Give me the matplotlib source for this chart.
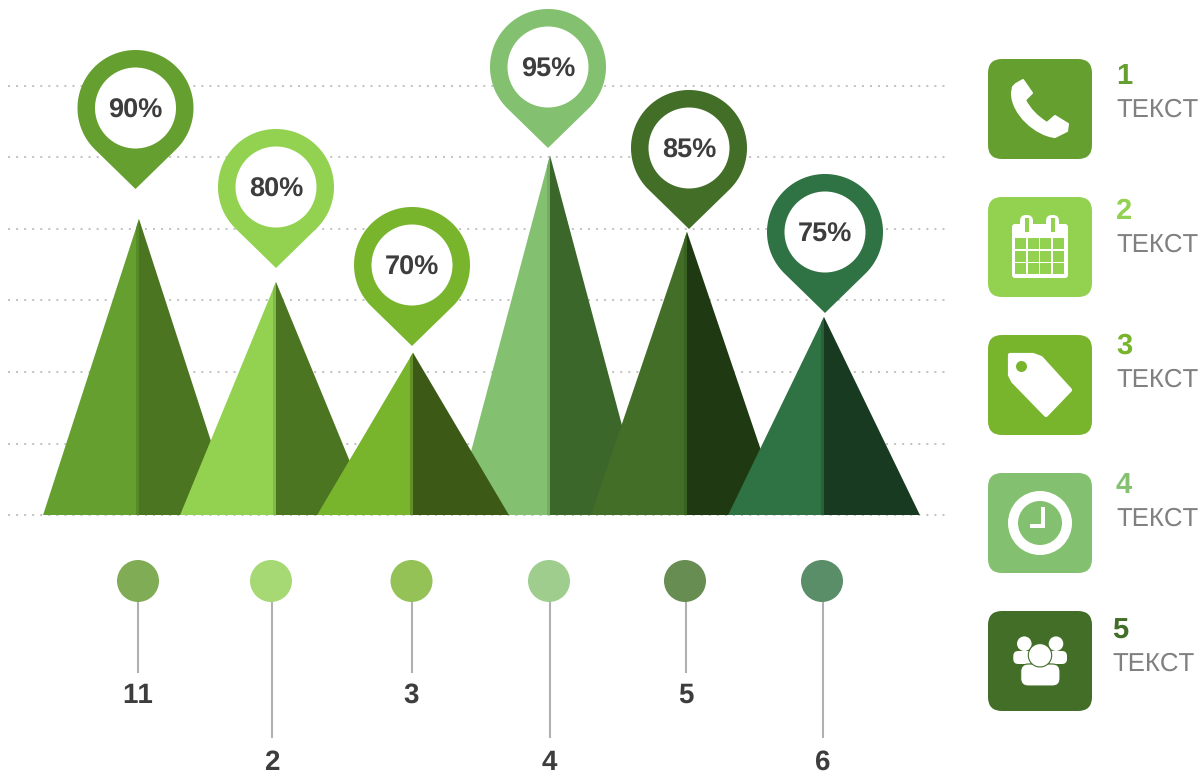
import matplotlib
matplotlib.use('Agg')
import matplotlib.pyplot as plt
import numpy as np
from matplotlib.patches import Circle, FancyBboxPatch, Polygon, PathPatch, Rectangle
from matplotlib.path import Path

plt.rcParams['font.family'] = ['Liberation Sans', 'DejaVu Sans']
plt.rcParams['text.kerning_factor'] = 6
plt.rcParams['text.hinting'] = 'none'

# chart values
percents = [90, 80, 70, 95, 85, 75]
peak_heights = [414, 326, 227, 503, 396, 277]   # in grid units, 100 per dotted line
grid_levels = [0, 100, 200, 300, 400, 500, 600]
bottom_labels = ['11', '2', '3', '4', '5', '6']
legend_numbers = ['1', '2', '3', '4', '5']
legend_text = 'ТЕКСТ'

left_colors = ['#659f2f', '#93d250', '#79b42d', '#83c170', '#426e27', '#2f7244']
right_colors = ['#4b7520', '#4b7520', '#3c5916', '#3b672b', '#1f3a13', '#173a20']
stripe_colors = ['#568c28', '#7fbb48', '#628f27', '#74ac64', '#396222', '#296239']
dot_colors = ['#81ac56', '#a6d974', '#94c257', '#9ecd8d', '#678d52', '#5a8e69']
icon_colors = ['#659f2f', '#93d250', '#79b42d', '#83c170', '#426e27']

INK = '#3d3d3d'
W, H = 1204, 775

fig = plt.figure(figsize=(W / 100, H / 100), dpi=100, facecolor='white')

# triangles live on a real axes: x = category index, y = grid units
ax = fig.add_axes([2 / W, (H - 515) / H, 959 / W, 429 / H])
ax.set_xlim(-1, 6)
ax.set_ylim(0, 600)
ax.axis('off')
ax.hlines(grid_levels, -0.956, 5.905, colors='#c4c4c4', linewidth=1.45,
          linestyles=[(0, (1, 3))], zorder=1, clip_on=False)

half_width = 0.70
for order, i in enumerate([0, 1, 3, 2, 4, 5]):
    z = 2 + order
    h = peak_heights[i]
    ax.add_patch(Polygon([(i - half_width, 0), (i, h), (i, 0)], fc=left_colors[i], ec='none', zorder=z))
    ax.add_patch(Polygon([(i, 0), (i, h), (i + half_width, 0)], fc=right_colors[i], ec='none', zorder=z))
    tri = Polygon([(i - half_width, 0), (i, h), (i + half_width, 0)], transform=ax.transData)
    stripe = Rectangle((i - 0.02, 0), 0.02, h, fc=stripe_colors[i], ec='none', zorder=z)
    ax.add_patch(stripe)
    stripe.set_clip_path(tri)

# everything else is placed in pixels on an overlay
px = fig.add_axes([0, 0, 1, 1])
px.set_xlim(0, W)
px.set_ylim(H, 0)
px.axis('off')
px.patch.set_alpha(0)


def pin(cx, cy, color, label):
    r, d = 58, 81
    b = np.arccos(r / d)
    ang = np.linspace(-np.pi / 2 + b, 3 * np.pi / 2 - b, 160)
    pts = [(cx + r * np.cos(t), cy - r * np.sin(t)) for t in ang]
    pts.append((cx, cy + d))
    px.add_patch(Polygon(pts, fc=color, ec='none', zorder=3))
    px.add_patch(Circle((cx, cy), 40.5, fc='white', ec='none', zorder=4))
    px.text(cx, cy + 10, label, ha='center', va='baseline', fontsize=19.5, fontweight='bold', color=INK, zorder=5)


pin_x = [135.5, 276, 412, 548, 689, 825]
pin_y = [108, 187, 265, 67, 148, 232]
for i, p in enumerate(percents):
    pin(pin_x[i], pin_y[i], left_colors[i], f'{p}%')

# dots, stems and labels under the chart
dot_x = [138, 271, 411.5, 549, 685, 822]
stem_x = [138, 271.5, 411.5, 549.5, 685.5, 823]
stem_end = [673, 738, 673, 738, 673, 738]
label_y = [703, 770, 703, 770, 703, 770]
for i in range(6):
    px.plot([stem_x[i], stem_x[i]], [600, stem_end[i]], color='#b0b0b0', lw=1.5, solid_capstyle='butt', zorder=2)
    px.add_patch(Circle((dot_x[i], 581), 21, fc=dot_colors[i], ec='none', zorder=3))
    px.text(stem_x[i], label_y[i], bottom_labels[i], ha='center', va='baseline', fontsize=20,
            fontweight='bold', color=INK)


def phone(x, y):
    verts = [(24, 34), (25, 28), (28, 25), (35, 21), (44, 34), (37, 41),
             (44, 55), (59, 64),
             (67, 57), (80, 65), (79, 72), (67, 78),
             (48, 76), (24, 55), (24, 34), (24, 34)]
    codes = [Path.MOVETO, Path.LINETO, Path.LINETO, Path.LINETO, Path.LINETO, Path.LINETO,
             Path.CURVE3, Path.CURVE3,
             Path.LINETO, Path.LINETO, Path.LINETO, Path.LINETO,
             Path.CURVE4, Path.CURVE4, Path.CURVE4, Path.CLOSEPOLY]
    px.add_patch(PathPatch(Path([(x + a, y + b) for a, b in verts], codes), fc='white', ec='white',
                           lw=1.5, joinstyle='round', zorder=4))


def calendar(x, y, bg):
    px.add_patch(FancyBboxPatch((x + 24, y + 27), 56, 54, boxstyle='round,pad=0,rounding_size=3',
                                fc='white', ec='none', zorder=4))
    for rx in (32, 58):
        px.add_patch(FancyBboxPatch((x + rx, y + 18), 13, 17, boxstyle='round,pad=0,rounding_size=6',
                                    fc='white', ec='none', zorder=5))
        px.add_patch(Rectangle((x + rx + 4.5, y + 21), 4, 14, fc=bg, ec='none', zorder=6))
    for c in range(4):
        for r in range(3):
            px.add_patch(Rectangle((x + 27 + c * 12.6, y + 41 + r * 12.6), 11, 11, fc=bg, ec='none', zorder=5))


def tag(x, y, bg):
    pts = [(22, 20), (45, 20), (53, 23), (82, 55), (58, 80), (25, 46), (22, 40)]
    px.add_patch(Polygon([(x + a, y + b) for a, b in pts], fc='white', ec='white', lw=3, joinstyle='round', zorder=4))
    px.add_patch(Circle((x + 33.5, y + 31.5), 5.5, fc=bg, ec='none', zorder=5))


def clock(x, y, bg):
    px.add_patch(Circle((x + 52, y + 50), 32, fc='white', ec='none', zorder=4))
    px.add_patch(Circle((x + 52, y + 50), 22, fc=bg, ec='none', zorder=5))
    px.add_patch(Rectangle((x + 52.7, y + 34), 4, 21, fc='white', ec='none', zorder=6))
    px.add_patch(Rectangle((x + 42, y + 51), 14.7, 4, fc='white', ec='none', zorder=6))


def people(x, y, bg):
    for cx, bx in ((36.3, 25.3), (68, 59)):
        px.add_patch(Circle((x + cx, y + 32.7), 7.3, fc='white', ec='none', zorder=4))
        px.add_patch(FancyBboxPatch((x + bx, y + 40), 20, 13,
                                    boxstyle='round,pad=0,rounding_size=5', fc='white', ec='none', zorder=4))
    px.add_patch(FancyBboxPatch((x + 32.7, y + 53), 39.3, 22, boxstyle='round,pad=0,rounding_size=7.5',
                                fc='white', ec=bg, lw=0.8, zorder=5))
    px.add_patch(Circle((x + 52, y + 44.3), 11.7, fc='white', ec=bg, lw=0.8, zorder=6))


icon_y = [59, 197, 335, 473, 611]
num_x = [1116, 1116, 1116, 1116, 1112]
num_y = [84, 219, 354, 493, 639]
text_y = [117, 252, 387, 526, 671]
for i in range(5):
    y = icon_y[i]
    px.add_patch(FancyBboxPatch((988, y), 104, 100, boxstyle='round,pad=0,rounding_size=14',
                                fc=icon_colors[i], ec='none', zorder=3))
    px.text(num_x[i], num_y[i], legend_numbers[i], ha='left', va='baseline', fontsize=21,
            fontweight='bold', color=icon_colors[i])
    px.text(num_x[i], text_y[i], legend_text, ha='left', va='baseline', fontsize=18.5, color='#808080')

phone(988, icon_y[0])
calendar(988, icon_y[1], icon_colors[1])
tag(988, icon_y[2], icon_colors[2])
clock(988, icon_y[3], icon_colors[3])
people(988, icon_y[4], icon_colors[4])

fig.savefig('out.png', dpi=100, facecolor='white')
plt.close(fig)
